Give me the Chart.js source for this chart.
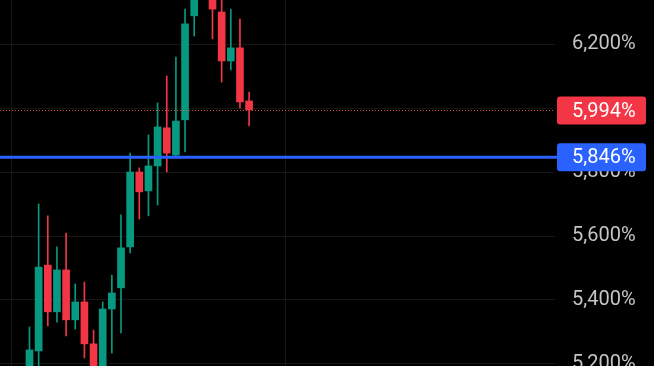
<!DOCTYPE html>
<html>
<head>
<meta charset="utf-8">
<script src="https://cdn.jsdelivr.net/npm/chart.js@4.4.0/dist/chart.umd.min.js"></script>
<style>
  html, body { margin: 0; padding: 0; background: #000; }
  #wrap { width: 654px; height: 366px; }
</style>
</head>
<body>
<div id="wrap"><canvas id="myChart"></canvas></div>
<script>
// candles, oldest first (values in %)
const opens  = [5.175, 5.241, 5.509, 5.363, 5.494, 5.338, 5.394, 5.263, 5.190, 5.372, 5.438, 5.566, 5.800, 5.741, 5.819, 5.938, 5.853, 5.963, 6.288, 6.370, 6.360, 6.300, 6.147, 6.188, 6.022]
const highs  = [5.316, 5.700, 5.663, 5.566, 5.609, 5.450, 5.456, 5.306, 5.394, 5.478, 5.666, 5.859, 5.813, 5.916, 6.016, 6.100, 6.159, 6.309, 6.390, 6.450, 6.400, 6.350, 6.309, 6.278, 6.050]
const lows   = [5.150, 5.181, 5.319, 5.331, 5.288, 5.309, 5.219, 5.166, 5.170, 5.234, 5.297, 5.547, 5.653, 5.663, 5.697, 5.800, 5.847, 5.863, 6.225, 6.345, 6.216, 6.081, 6.119, 6.000, 5.944]
const closes = [5.244, 5.503, 5.363, 5.494, 5.338, 5.394, 5.263, 5.188, 5.372, 5.422, 5.563, 5.800, 5.738, 5.819, 5.941, 5.859, 5.959, 6.263, 6.369, 6.420, 6.309, 6.147, 6.188, 6.019, 5.994]

const yTicks = [5.2, 5.4, 5.6, 5.8, 6.0, 6.2]
const xGridLines = [-2, 28]

const lastPrice = 5.994
const levelPrice = 5.846

const UP = '#089981'
const DOWN = '#f23645'

const fmt = v => v.toFixed(3).replace('.', ',') + '%'

const bodies = opens.map((o, i) => ({ x: i, y: [o, closes[i]] }))
const wicks = lows.map((l, i) => ({ x: i, y: [l, highs[i]] }))
const colors = opens.map((o, i) => closes[i] >= o ? UP : DOWN)

Chart.defaults.font.family = 'Roboto'

const priceLines = {
  id: 'priceLines',
  afterDraw(chart) {
    const { ctx, chartArea, scales: { y } } = chart
    ctx.save()

    const yc = Math.round(y.getPixelForValue(lastPrice)) + 0.5
    ctx.strokeStyle = 'rgba(242, 80, 69, 0.9)'
    ctx.lineWidth = 1
    ctx.setLineDash([1, 2])
    ctx.beginPath()
    ctx.moveTo(0, yc)
    ctx.lineTo(chartArea.right, yc)
    ctx.stroke()

    const yl = y.getPixelForValue(levelPrice)
    ctx.setLineDash([])
    ctx.strokeStyle = '#2962ff'
    ctx.lineWidth = 3
    ctx.beginPath()
    ctx.moveTo(0, yl)
    ctx.lineTo(chartArea.right + 2, yl)
    ctx.stroke()

    const tag = (py, color, text) => {
      ctx.fillStyle = color
      ctx.beginPath()
      ctx.roundRect(chartArea.right + 2, py - 14, 89, 28, 3)
      ctx.fill()
      ctx.fillStyle = '#fff'
      ctx.font = '20px Roboto'
      ctx.textAlign = 'left'
      ctx.textBaseline = 'middle'
      ctx.fillText(text, chartArea.right + 17, py + 1)
    }
    tag(yc, DOWN, fmt(lastPrice))
    tag(yl, '#2962ff', fmt(levelPrice))

    ctx.restore()
  }
}

const config = {
  type: 'bar',
  data: {
    datasets: [
      {
        label: 'wicks',
        data: wicks,
        backgroundColor: colors,
        barThickness: 1,
        grouped: false,
        borderWidth: 0
      },
      {
        label: 'bodies',
        data: bodies,
        backgroundColor: colors,
        barThickness: 7,
        grouped: false,
        borderWidth: 0
      }
    ]
  },
  options: {
    responsive: true,
    maintainAspectRatio: false,
    animation: false,
    layout: { padding: 0 },
    plugins: {
      legend: { display: false },
      tooltip: { enabled: false }
    },
    scales: {
      x: {
        type: 'linear',
        offset: false,
        min: -3.224,
        max: 57.43,
        grid: { color: '#161616', drawTicks: false, offset: false },
        border: { display: false },
        ticks: { display: false },
        afterBuildTicks: s => { s.ticks = xGridLines.map(v => ({ value: v })) },
        afterFit: s => { s.height = 0 }
      },
      y: {
        type: 'linear',
        position: 'right',
        min: 5.19375,
        max: 6.3375,
        grid: { color: '#161616', drawTicks: false },
        border: { display: false },
        ticks: {
          color: '#c4c4c4',
          padding: 17,
          font: { family: 'Roboto', size: 20 },
          callback: v => fmt(v)
        },
        afterBuildTicks: s => { s.ticks = yTicks.map(v => ({ value: v })) },
        afterFit: s => { s.width = 99; s.paddingTop = 0; s.paddingBottom = 0 }
      }
    }
  },
  plugins: [priceLines]
}

const ctx1 = document.getElementById('myChart')
new Chart(ctx1, config)
</script>
</body>
</html>
